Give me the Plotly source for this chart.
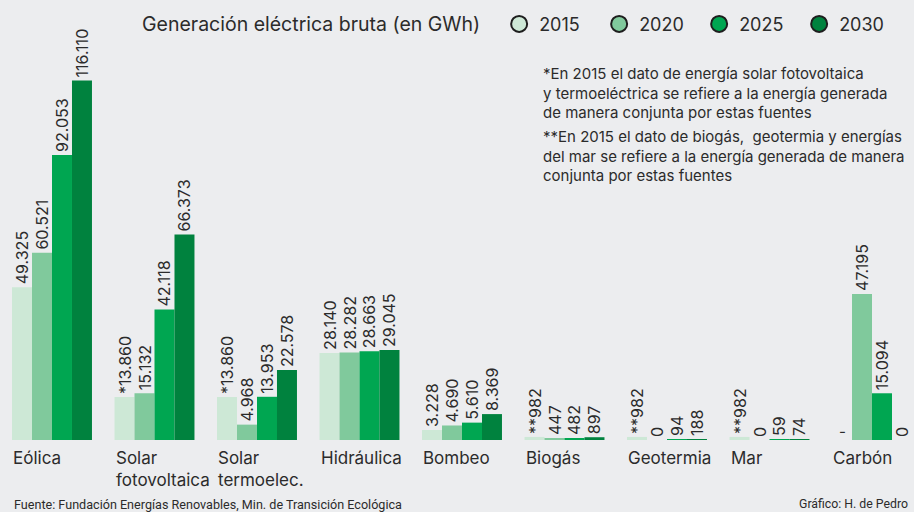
import plotly.graph_objects as go

categories = ["Eólica", "Solar fotovoltaica", "Solar termoelec.", "Hidráulica", "Bombeo",
              "Biogás", "Geotermia", "Mar", "Carbón"]
cat_labels = ["Eólica", "Solar<br>fotovoltaica", "Solar<br>termoelec.", "Hidráulica", "Bombeo",
              "Biogás", "Geotermia", "Mar", "Carbón"]
years = ["2015", "2020", "2025", "2030"]

v2015 = [49325, 13860, 13860, 28140, 3228, 982, 982, 982, None]
v2020 = [60521, 15132, 4968, 28282, 4690, 447, 0, 0, 47195]
v2025 = [92053, 42118, 13953, 28663, 5610, 482, 94, 59, 15094]
v2030 = [116110, 66373, 22578, 29045, 8369, 897, 188, 74, 0]

t2015 = ["49.325", "*13.860", "*13.860", "28.140", "3.228", "**982", "**982", "**982", "-"]
t2020 = ["60.521", "15.132", "4.968", "28.282", "4.690", "447", "0", "0", "47.195"]
t2025 = ["92.053", "42.118", "13.953", "28.663", "5.610", "482", "94", "59", "15.094"]
t2030 = ["116.110", "66.373", "22.578", "29.045", "8.369", "897", "188", "74", "0"]

colors = ["#cde8d6", "#80c99c", "#00a651", "#00823e"]
values = [v2015, v2020, v2025, v2030]
texts = [t2015, t2020, t2025, t2030]

BG = "#ecedef"
TXT = "#2b2b2b"
FONT = "Inter"

fig = go.Figure()
for yr, vals, txt, col in zip(years, values, texts, colors):
    fig.add_trace(go.Bar(
        x=categories, y=vals, name=yr, text=txt,
        textposition="outside", textangle=-90, cliponaxis=False,
        constraintext="none",
        textfont=dict(family=FONT, size=16, color=TXT),
        marker=dict(color=col, line=dict(width=0)),
        showlegend=False, hoverinfo="skip",
    ))
for yr, col in zip(years, colors):
    fig.add_trace(go.Scatter(
        x=[None], y=[None], mode="markers", name=yr,
        marker=dict(color=col, size=20, symbol="circle", line=dict(color="#1e1e1e", width=2)),
    ))

# "-" label for missing Carbón 2015 value
idx = v2015.index(None)
fig.add_annotation(x=categories[idx], y=0, xref="x", yref="y", text=t2015[idx],
                   showarrow=False, xshift=-30, yshift=-3, yanchor="bottom",
                   font=dict(family=FONT, size=15, color=TXT))

for cat, lab in zip(categories, cat_labels):
    fig.add_annotation(x=cat, y=0, xref="x", yref="paper", text=lab, showarrow=False,
                       xanchor="left", yanchor="top", xshift=-41, yshift=-6, align="left",
                       font=dict(family=FONT, size=17, color=TXT))

fig.add_annotation(x=541/914, y=0.86, xref="paper", yref="paper", xanchor="left", yanchor="top",
                   align="left", showarrow=False,
                   text="*En 2015 el dato de energía solar fotovoltaica<br>y termoeléctrica se refiere a la energía generada<br>de manera conjunta por estas fuentes",
                   font=dict(family=FONT, size=15, color=TXT))
fig.add_annotation(x=541/914, y=0.715, xref="paper", yref="paper", xanchor="left", yanchor="top",
                   align="left", showarrow=False,
                   text="**En 2015 el dato de biogás,  geotermia y energías<br>del mar se refiere a la energía generada de manera<br>conjunta por estas fuentes",
                   font=dict(family=FONT, size=15, color=TXT))

fig.add_annotation(x=12/914, y=-0.146, xref="paper", yref="paper", xanchor="left", yanchor="middle",
                   showarrow=False, text="Fuente: Fundación Energías Renovables, Min. de Transición Ecológica",
                   font=dict(family="Roboto", size=12.6, color=TXT))
fig.add_annotation(x=910/914, y=-0.146, xref="paper", yref="paper", xanchor="right", yanchor="middle",
                   showarrow=False, text="Gráfico: H. de Pedro",
                   font=dict(family="Roboto", size=12.3, color=TXT))

fig.update_layout(
    width=914, height=512,
    margin=dict(l=0, r=0, t=0, b=72),
    paper_bgcolor=BG, plot_bgcolor=BG,
    barmode="group", bargap=0.22, bargroupgap=0,
    xaxis=dict(range=[-0.5073, 8.4098], showticklabels=False, showgrid=False,
               zeroline=False, showline=False, ticks=""),
    yaxis=dict(range=[0, 142119], visible=False, showgrid=False, zeroline=False),
    legend=dict(orientation="h", x=140/914, xanchor="left", y=0.945, yanchor="middle",
                entrywidth=55, entrywidthmode="pixels",
                bgcolor="rgba(0,0,0,0)", font=dict(family=FONT, size=18, color=TXT),
                title=dict(text="Generación eléctrica bruta (en GWh)  ",
                           font=dict(family=FONT, size=19.5, color=TXT))),
    font=dict(family=FONT, color=TXT),
)

fig.write_html("out.html")
